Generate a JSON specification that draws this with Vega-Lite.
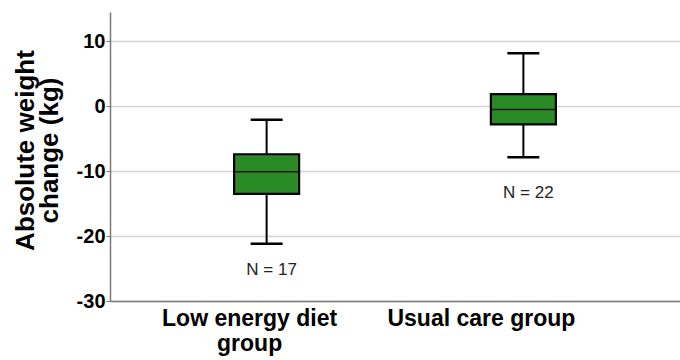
{
  "$schema": "https://vega.github.io/schema/vega-lite/v6.json",
  "autosize": "none",
  "width": 570,
  "height": 289,
  "padding": {"left": 110, "top": 12, "right": 0, "bottom": 59},
  "background": "white",
  "config": {
    "view": {"stroke": null},
    "font": "Liberation Sans"
  },
  "data": {
    "values": [
      {"group": "Low energy diet group", "lower": -21.2, "q1": -13.5, "median": -10.1, "q3": -7.4, "upper": -2.1, "n": "N = 17", "n_label_at": -25.2},
      {"group": "Usual care group", "lower": -7.85, "q1": -2.8, "median": -0.5, "q3": 1.85, "upper": 8.15, "n": "N = 22", "n_label_at": -13.4}
    ]
  },
  "encoding": {
    "x": {
      "field": "group",
      "type": "nominal",
      "sort": null,
      "scale": {"type": "band", "paddingInner": 0, "paddingOuter": 0.11},
      "axis": {
        "title": null,
        "labelAngle": 0,
        "labelFont": "Liberation Sans",
        "labelFontSize": 23,
        "labelFontWeight": "bold",
        "labelColor": "#000000",
        "labelLimit": 400,
        "labelLineHeight": 25,
        "labelPadding": 6,
        "labelExpr": "datum.label == 'Low energy diet group' ? ['Low energy diet', 'group'] : datum.label",
        "labelOffset": {"condition": {"test": "datum.value == 'Usual care group'", "value": -42}, "value": -17},
        "ticks": false,
        "domainColor": "#7a7a7a",
        "domainWidth": 1.5,
        "grid": false
      }
    }
  },
  "layer": [
    {
      "mark": {"type": "rule", "color": "#000000", "strokeWidth": 2},
      "encoding": {
        "y": {
          "field": "lower",
          "type": "quantitative",
          "scale": {"domain": [-30, 14.5], "nice": false, "zero": false},
          "axis": {
            "title": ["Absolute weight", "change (kg)"],
            "titleFont": "Liberation Sans",
            "titleFontSize": 26,
            "titleFontWeight": "bold",
            "titleColor": "#000000",
            "titleLineHeight": 24,
            "titlePadding": 14,
            "titleY": 138,
            "values": [-30, -20, -10, 0, 10],
            "labelExpr": "'' + datum.value",
            "labelFont": "Liberation Sans",
            "labelFontSize": 20,
            "labelFontWeight": "bold",
            "labelColor": "#000000",
            "labelPadding": 1,
            "tickSize": 4,
            "tickColor": "#7a7a7a",
            "domainColor": "#7a7a7a",
            "domainWidth": 1.5,
            "gridColor": "#d4d4d4",
            "gridWidth": 1.5
          }
        },
        "y2": {"field": "upper"}
      }
    },
    {
      "mark": {"type": "bar", "size": 65, "fill": "#2a8a26", "stroke": "#000000", "strokeWidth": 2.2},
      "encoding": {
        "y": {"field": "q1", "type": "quantitative"},
        "y2": {"field": "q3"}
      }
    },
    {
      "mark": {"type": "tick", "size": 64, "thickness": 1.5, "color": "#1a1a1a", "opacity": 1},
      "encoding": {
        "y": {"field": "median", "type": "quantitative"}
      }
    },
    {
      "mark": {"type": "tick", "size": 32, "thickness": 2.5, "color": "#000000", "opacity": 1},
      "encoding": {
        "y": {"field": "upper", "type": "quantitative"}
      }
    },
    {
      "mark": {"type": "tick", "size": 32, "thickness": 2.5, "color": "#000000", "opacity": 1},
      "encoding": {
        "y": {"field": "lower", "type": "quantitative"}
      }
    },
    {
      "mark": {"type": "text", "font": "Liberation Sans", "fontSize": 17, "color": "#222222", "baseline": "middle", "dx": 5},
      "encoding": {
        "y": {"field": "n_label_at", "type": "quantitative"},
        "text": {"field": "n"}
      }
    }
  ]
}
